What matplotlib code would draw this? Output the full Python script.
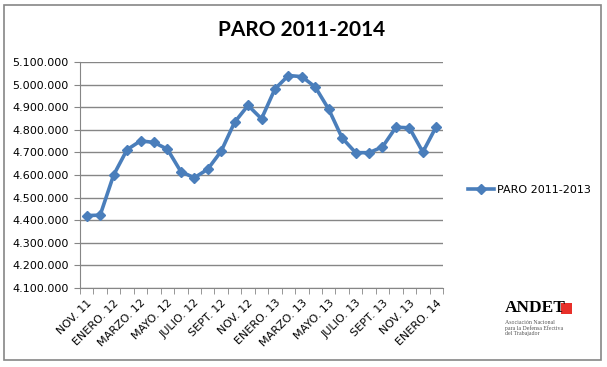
import numpy as np
import matplotlib
matplotlib.use("Agg")
import matplotlib.pyplot as plt
from matplotlib.patches import Rectangle
from matplotlib.ticker import FuncFormatter, MultipleLocator, FixedLocator

# monthly registered unemployment, Nov 2011 .. Jan 2014
months = ["NOV. 11", "DIC. 11", "ENERO. 12", "FEB. 12", "MARZO. 12", "ABRIL. 12",
          "MAYO. 12", "JUNIO. 12", "JULIO. 12", "AGOSTO. 12", "SEPT. 12", "OCT. 12",
          "NOV. 12", "DIC. 12", "ENERO. 13", "FEB. 13", "MARZO. 13", "ABRIL. 13",
          "MAYO. 13", "JUNIO. 13", "JULIO. 13", "AGOSTO. 13", "SEPT. 13", "OCT. 13",
          "NOV. 13", "DIC. 13", "ENERO. 14"]
paro = [4420462, 4422359, 4599829, 4712098, 4750867, 4744235, 4714122, 4615269,
        4587455, 4625634, 4705279, 4833521, 4907817, 4848723, 4980778, 5040222,
        5035243, 4989193, 4890928, 4763680, 4698814, 4698783, 4724355, 4811383,
        4808908, 4701338, 4814435]
series_name = "PARO 2011-2013"
title = "PARO 2011-2014"

gray = "#868686"
blue = "#4A7EBB"

W, H = 607, 367
fig = plt.figure(figsize=(W / 100, H / 100), dpi=100)
ax = fig.add_axes([80 / W, 1 - 288 / H, 363 / W, 226 / H])

x = np.arange(len(paro))
line, = ax.plot(x, paro, color=blue, lw=2.6, marker="D", ms=5.5,
                markeredgecolor=blue, markerfacecolor=blue, label=series_name)

ax.set_xlim(-0.5, len(paro) - 0.5)
ax.set_ylim(4100000, 5100000)
ax.yaxis.set_major_locator(MultipleLocator(100000))
ax.yaxis.set_major_formatter(FuncFormatter(lambda v, p: f"{int(v):,}".replace(",", ".")))
ax.grid(axis="y", color=gray, lw=1)
ax.set_axisbelow(True)

# labels every second month, tick marks at category boundaries
ax.xaxis.set_major_locator(FixedLocator(x[::2]))
ax.set_xticklabels(months[::2], rotation=45, ha="right", rotation_mode="anchor", fontsize=8)
ax.xaxis.set_minor_locator(FixedLocator(np.arange(-0.5, len(paro), 1)))
ax.tick_params(axis="x", which="major", length=0, pad=7)
ax.tick_params(axis="x", which="minor", length=4, color=gray)
ax.tick_params(axis="y", length=4, color=gray, labelsize=8, pad=4)

for s in ["top", "right"]:
    ax.spines[s].set_visible(False)
for s in ["left", "bottom"]:
    ax.spines[s].set_color(gray)

fig.text(302 / W, 1 - 30 / H, title, ha="center", va="center",
         fontsize=15, fontweight="bold", family="Lato")

# legend
fig.legend(handles=[line], loc="center left", bbox_to_anchor=(458 / W, 1 - 190 / H),
           frameon=False, fontsize=8, handlelength=2.3, handletextpad=0.3)

# chart border
fig.patches.append(Rectangle((4 / W, 1 - 360 / H), 597 / W, 355 / H, transform=fig.transFigure,
                             fill=False, edgecolor=gray, lw=1.2))

# ANDET logo
fig.text(505 / W, 1 - 308 / H, "ANDET", ha="left", va="center", fontsize=12.5,
         fontweight="bold", family="Liberation Serif")
fig.patches.append(Rectangle((561 / W, 1 - 314 / H), 11 / W, 11 / H, transform=fig.transFigure,
                             facecolor="#e8302a", edgecolor="none"))
for i, t in enumerate(["Asociación Nacional", "para la Defensa Efectiva", "del Trabajador"]):
    fig.text(505 / W, 1 - (322 + i * 6) / H, t, ha="left", va="center", fontsize=4.2,
             color="#555555", family="Liberation Serif")

plt.savefig("out.png", dpi=100)
